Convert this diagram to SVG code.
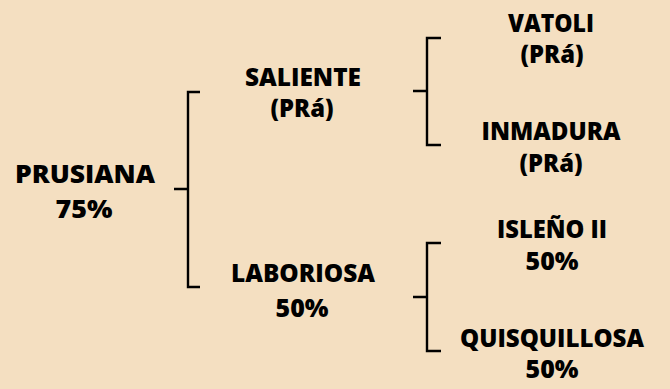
<svg xmlns="http://www.w3.org/2000/svg" width="670" height="389" viewBox="0 0 670 389">
<style>
.t{font-family:"Open Sans","Liberation Sans",sans-serif;font-weight:800;font-size:25px;fill:#000;text-anchor:middle}
.s{font-size:24px}
.b{fill:none;stroke:#000;stroke-width:2.4}
</style>
<rect width="670" height="389" fill="#F4DFC1"/>
<g id="connectors">
<path class="b" d="M174 189H188M200 92H188V287H200"/>
<path class="b" d="M413 91H427M441 38H427V145H441"/>
<path class="b" d="M413 297H427M441 243H427V351H441"/>
</g>
<g id="prusiana"><text class="t" x="85" y="183" font-size="27" textLength="140" lengthAdjust="spacingAndGlyphs">PRUSIANA</text><text class="t" x="84" y="218" textLength="57" lengthAdjust="spacingAndGlyphs">75%</text></g>
<g id="saliente"><text class="t" x="303" y="86" textLength="116" lengthAdjust="spacingAndGlyphs">SALIENTE</text><text class="t s" x="302" y="117" textLength="63" lengthAdjust="spacingAndGlyphs">(PRá)</text></g>
<g id="laboriosa"><text class="t" x="303" y="282" textLength="144" lengthAdjust="spacingAndGlyphs">LABORIOSA</text><text class="t" x="302" y="317" textLength="53" lengthAdjust="spacingAndGlyphs">50%</text></g>
<g id="vatoli"><text class="t" x="551" y="32" textLength="86" lengthAdjust="spacingAndGlyphs">VATOLI</text><text class="t s" x="552" y="63" textLength="63" lengthAdjust="spacingAndGlyphs">(PRá)</text></g>
<g id="inmadura"><text class="t" x="551" y="140" textLength="139" lengthAdjust="spacingAndGlyphs">INMADURA</text><text class="t s" x="551" y="172" textLength="63" lengthAdjust="spacingAndGlyphs">(PRá)</text></g>
<g id="isleno"><text class="t" x="552" y="238" textLength="110" lengthAdjust="spacingAndGlyphs">ISLEÑO II</text><text class="t" x="552" y="270" textLength="53" lengthAdjust="spacingAndGlyphs">50%</text></g>
<g id="quisquillosa"><text class="t" x="552" y="347" textLength="184" lengthAdjust="spacingAndGlyphs">QUISQUILLOSA</text><text class="t" x="552" y="378" textLength="53" lengthAdjust="spacingAndGlyphs">50%</text></g>
</svg>
